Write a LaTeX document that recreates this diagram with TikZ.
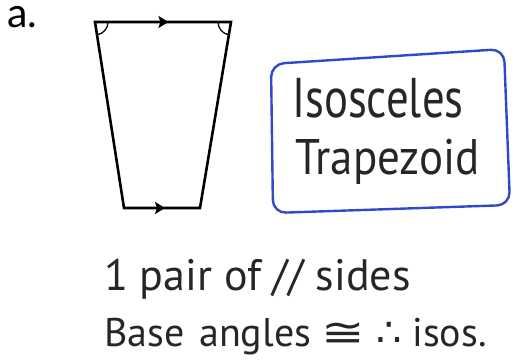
\documentclass[tikz,border=0pt]{standalone}
\usepackage{amsmath, amssymb}
\usepackage{graphicx}
\usepackage{fontspec}
\setmainfont{Lato}
\newfontfamily\handfont{PT Sans}
\newfontfamily\symfont{DejaVu Sans}
\usetikzlibrary{arrows.meta, decorations.markings}
\definecolor{penblue}{RGB}{48,72,205}
\newcommand{\squeeze}[2]{\scalebox{#1}[1]{#2}}

\begin{document}
\begin{tikzpicture}[x=1pt, y=-1pt, >={Stealth[length=10pt, width=12pt, inset=2pt]},
  edge/.style={line width=2.6pt, line join=miter},
  parmark/.style={postaction={decorate}, decoration={markings, mark=at position 0.54 with {\arrow{>}}}},
  anglemark/.style={line width=1.3pt},
  bluebox/.style={draw=penblue, line width=2.4pt, rounded corners=13pt},
  hand/.style={font=\handfont\fontsize{#1}{#1}\selectfont, text=black!85, inner sep=0pt, anchor=base west}]
\useasboundingbox (0,0) rectangle (516,362);
% label
\node[font=\fontsize{41}{41}\selectfont, inner sep=0pt, text height=15pt, text depth=0pt, anchor=base west] (lbl) at (7,27) {a.};
% trapezoid
\coordinate (tl) at (95,22);
\coordinate (tr) at (231,22);
\coordinate (br) at (200,208);
\coordinate (bl) at (124,208);
\draw[edge] (tl) -- (tr) -- (br) -- (bl) -- cycle;
\draw[edge, parmark] (tl) -- (tr);
\draw[edge, parmark] (bl) -- (br);
\draw[anglemark] ([shift={(0:13)}]tl) arc[start angle=0, end angle=81, radius=13];
\draw[anglemark] ([shift={(180:13)}]tr) arc[start angle=180, end angle=99.5, radius=13];
% name box
\draw[bluebox] (271,64) -- (504,49) -- (510,205) -- (273,213) -- cycle;
\node[hand=56] (iso) at (292,117) {\squeeze{0.8}{Isosceles}};
\node[hand=50] (trap) at (295,174) {\squeeze{0.9}{Trapezoid}};
% notes
\node[hand=44] (pairs) at (104,290) {1 pair of // sides};
\node[hand=40] (base) at (104,346) {Base\hspace{4pt} angles \squeeze{1.3}{\symfont ≅} {\symfont ∴} isos.};
\end{tikzpicture}
\end{document}
